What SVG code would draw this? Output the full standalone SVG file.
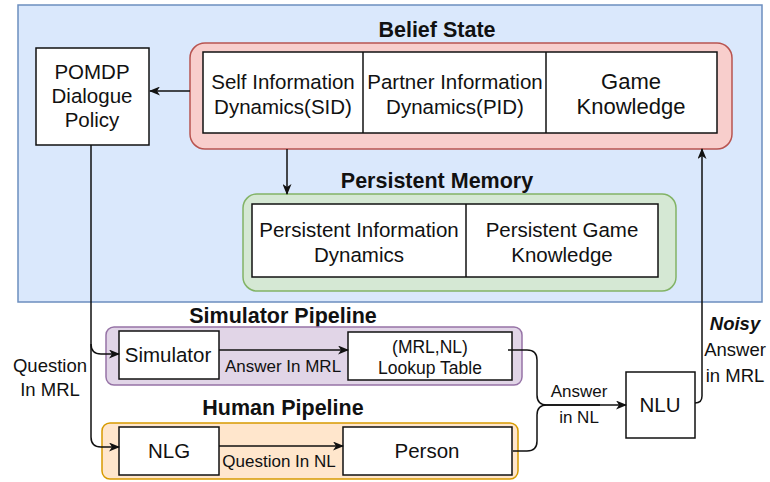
<svg xmlns="http://www.w3.org/2000/svg" width="770" height="482" viewBox="0 0 770 482">
<defs>
<style>
text{font-family:"Liberation Sans",Arial,sans-serif;fill:#111;text-anchor:middle}
.t{font-size:20.5px}
.s{font-size:17.5px}
.q{font-size:18.5px}
.lbl{font-size:17px}
.h{font-size:21.5px;font-weight:bold}
.box{fill:#fff;stroke:#111;stroke-width:1.5}
.e{fill:none;stroke:#111;stroke-width:1.5}
</style>
<marker id="a" markerWidth="11" markerHeight="9" refX="10" refY="4.5" orient="auto" markerUnits="userSpaceOnUse">
<path d="M0,0 L11,4.5 L0,9 L3,4.5 z" fill="#111"/>
</marker>
</defs>
<rect width="770" height="482" fill="#fff"/>
<g id="belief-area">
<rect x="18" y="5" width="744" height="297" fill="#dae8fc" stroke="#6c8ebf" stroke-width="1.5"/>
</g>
<g id="belief-state">
<text class="h" x="437" y="37">Belief State</text>
<rect x="190" y="43" width="542" height="106" rx="15" fill="#f8cecc" stroke="#b85450" stroke-width="1.5"/>
<rect class="box" x="203" y="52" width="514" height="81"/>
<line x1="363" y1="52" x2="363" y2="133" stroke="#111" stroke-width="1.5"/>
<line x1="546" y1="52" x2="546" y2="133" stroke="#111" stroke-width="1.5"/>
<text class="t" x="283" y="89">Self Information</text>
<text class="t" x="283" y="114">Dynamics(SID)</text>
<text class="t" x="455" y="89">Partner Information</text>
<text class="t" x="455" y="114">Dynamics(PID)</text>
<text x="631" y="89" font-size="22">Game</text>
<text x="631" y="114" font-size="22">Knowledge</text>
</g>
<g id="pomdp">
<rect class="box" x="36" y="48" width="113" height="97"/>
<text class="t" x="92" y="79">POMDP</text>
<text class="t" x="92" y="103">Dialogue</text>
<text class="t" x="92" y="127">Policy</text>
</g>
<g id="persistent-memory">
<text class="h" x="437" y="188">Persistent Memory</text>
<rect x="243" y="194" width="433" height="97" rx="14" fill="#d5e8d4" stroke="#82b366" stroke-width="1.5"/>
<rect class="box" x="252" y="204" width="406" height="73"/>
<line x1="466" y1="204" x2="466" y2="277" stroke="#111" stroke-width="1.5"/>
<text class="t" x="359" y="237">Persistent Information</text>
<text class="t" x="359" y="262">Dynamics</text>
<text class="t" x="562" y="237">Persistent Game</text>
<text class="t" x="562" y="262">Knowledge</text>
</g>
<g id="simulator-pipeline">
<text class="h" x="283" y="323">Simulator Pipeline</text>
<rect x="106" y="327" width="416" height="58" rx="8" fill="#e1d5e7" stroke="#9673a6" stroke-width="1.5"/>
</g>
<g id="simulator">
<rect class="box" x="119" y="331" width="100" height="48"/>
<text class="t" x="168" y="362">Simulator</text>
</g>
<g id="lookup">
<rect class="box" x="348" y="332" width="164" height="48"/>
<text class="s" x="430" y="353">(MRL,NL)</text>
<text class="s" x="430" y="374">Lookup Table</text>
</g>
<g id="human-pipeline">
<text class="h" x="283" y="415">Human Pipeline</text>
<rect x="102" y="423" width="416" height="56" rx="8" fill="#ffe6cc" stroke="#d79b00" stroke-width="1.5"/>
</g>
<g id="nlg">
<rect class="box" x="119" y="427" width="100" height="48"/>
<text class="t" x="169" y="458">NLG</text>
</g>
<g id="person">
<rect class="box" x="343" y="427" width="169" height="48"/>
<text class="t" x="427" y="458">Person</text>
</g>
<g id="nlu">
<rect class="box" x="626" y="372" width="69" height="66"/>
<text class="t" x="660" y="412">NLU</text>
</g>
<g id="connectors">
<path class="e" d="M190 91 L150 91" marker-end="url(#a)"/>
<path class="e" d="M287 149 L287 194" marker-end="url(#a)"/>
<path class="e" d="M91 145 L91 344 Q91 354 101 354 L119 354" marker-end="url(#a)"/>
<path class="e" d="M91 344 L91 437 Q91 447 101 447 L119 447" marker-end="url(#a)"/>
<path class="e" d="M219 350 L348 350" marker-end="url(#a)"/>
<path class="e" d="M219 446 L343 446" marker-end="url(#a)"/>
<path class="e" d="M508 350 L527 350 Q537 350 537 360 L537 395 Q537 405 547 405 L626 405" marker-end="url(#a)"/>
<path class="e" d="M513 451 L527 451 Q537 451 537 441 L537 415 Q537 405 547 405 L600 405"/>
<path class="e" d="M695 403 Q702 403 702 396 L702 149" marker-end="url(#a)"/>
<text class="q" x="50" y="372">Question</text>
<text class="q" x="50" y="396">In MRL</text>
<text class="lbl" x="283" y="372">Answer In MRL</text>
<text class="lbl" x="279" y="467">Question In NL</text>
<text class="lbl" x="579" y="397">Answer</text>
<text class="lbl" x="579" y="423">in NL</text>
<text class="q" x="735" y="330" font-weight="bold" font-style="italic">Noisy</text>
<text class="q" x="735" y="356">Answer</text>
<text class="q" x="735" y="382">in MRL</text>
</g>
</svg>
